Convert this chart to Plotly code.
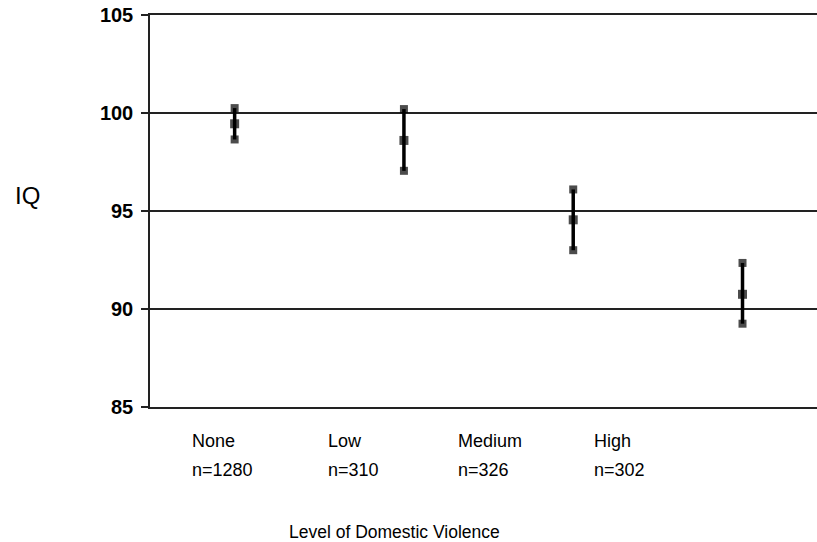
import plotly.graph_objects as go

categories = ["None", "Low", "Medium", "High"]
n_labels = ["n=1280", "n=310", "n=326", "n=302"]
means = [99.45, 98.6, 94.55, 90.75]
upper = [100.25, 100.2, 96.1, 92.35]
lower = [98.65, 97.05, 93.0, 89.25]
y_ticks = [85, 90, 95, 100, 105]

FONT = "Liberation Sans, Arial, sans-serif"
fig = go.Figure()
for i in range(len(categories)):
    fig.add_trace(go.Scatter(
        x=[i, i, i], y=[lower[i], means[i], upper[i]],
        mode="lines+markers",
        line=dict(color="black", width=3.5),
        marker=dict(symbol="square", size=[8, 9, 8], color="black",
                    line=dict(width=0)),
        showlegend=False, hoverinfo="y"))

fig.update_layout(
    width=817, height=542,
    margin=dict(l=150, r=0, t=15, b=135),
    plot_bgcolor="white", paper_bgcolor="white",
    xaxis=dict(range=[-0.5, 3.44], showgrid=False, showticklabels=False,
               zeroline=False, showline=True, linecolor="#222", linewidth=1.5,
               mirror=True, fixedrange=True),
    yaxis=dict(range=[85, 105], tickvals=y_ticks, ticks="outside", ticklen=7,
               tickcolor="#222", tickwidth=1.5,
               showgrid=True, gridcolor="#222", gridwidth=1.5,
               zeroline=False, showline=True, linecolor="#222", linewidth=1.5,
               tickfont=dict(family=FONT, size=20, color="black", weight="bold"),
               ticklabelstandoff=4),
    font=dict(family=FONT, color="black"),
)

label_x = [0.06, 0.264, 0.459, 0.663]
for i in range(len(categories)):
    fig.add_annotation(text=categories[i], x=label_x[i], y=-0.086, xref="paper", yref="paper",
                       xanchor="left", yanchor="middle", showarrow=False,
                       font=dict(size=18, family=FONT, color="black"))
    fig.add_annotation(text=n_labels[i], x=label_x[i], y=-0.160, xref="paper", yref="paper",
                       xanchor="left", yanchor="middle", showarrow=False,
                       font=dict(size=18, family=FONT, color="black"))

fig.add_annotation(text="Level of Domestic Violence", x=0.366, y=-0.318, xref="paper", yref="paper",
                   xanchor="center", yanchor="middle", showarrow=False,
                   font=dict(size=17.5, family=FONT, color="black"))
fig.add_annotation(text="IQ", x=-0.184, y=0.539, xref="paper", yref="paper",
                   xanchor="center", yanchor="middle", showarrow=False,
                   font=dict(size=24, family=FONT, color="black"))

fig.write_html("out.html", config={"displayModeBar": False},
               post_script="document.body.style.margin='0';")
